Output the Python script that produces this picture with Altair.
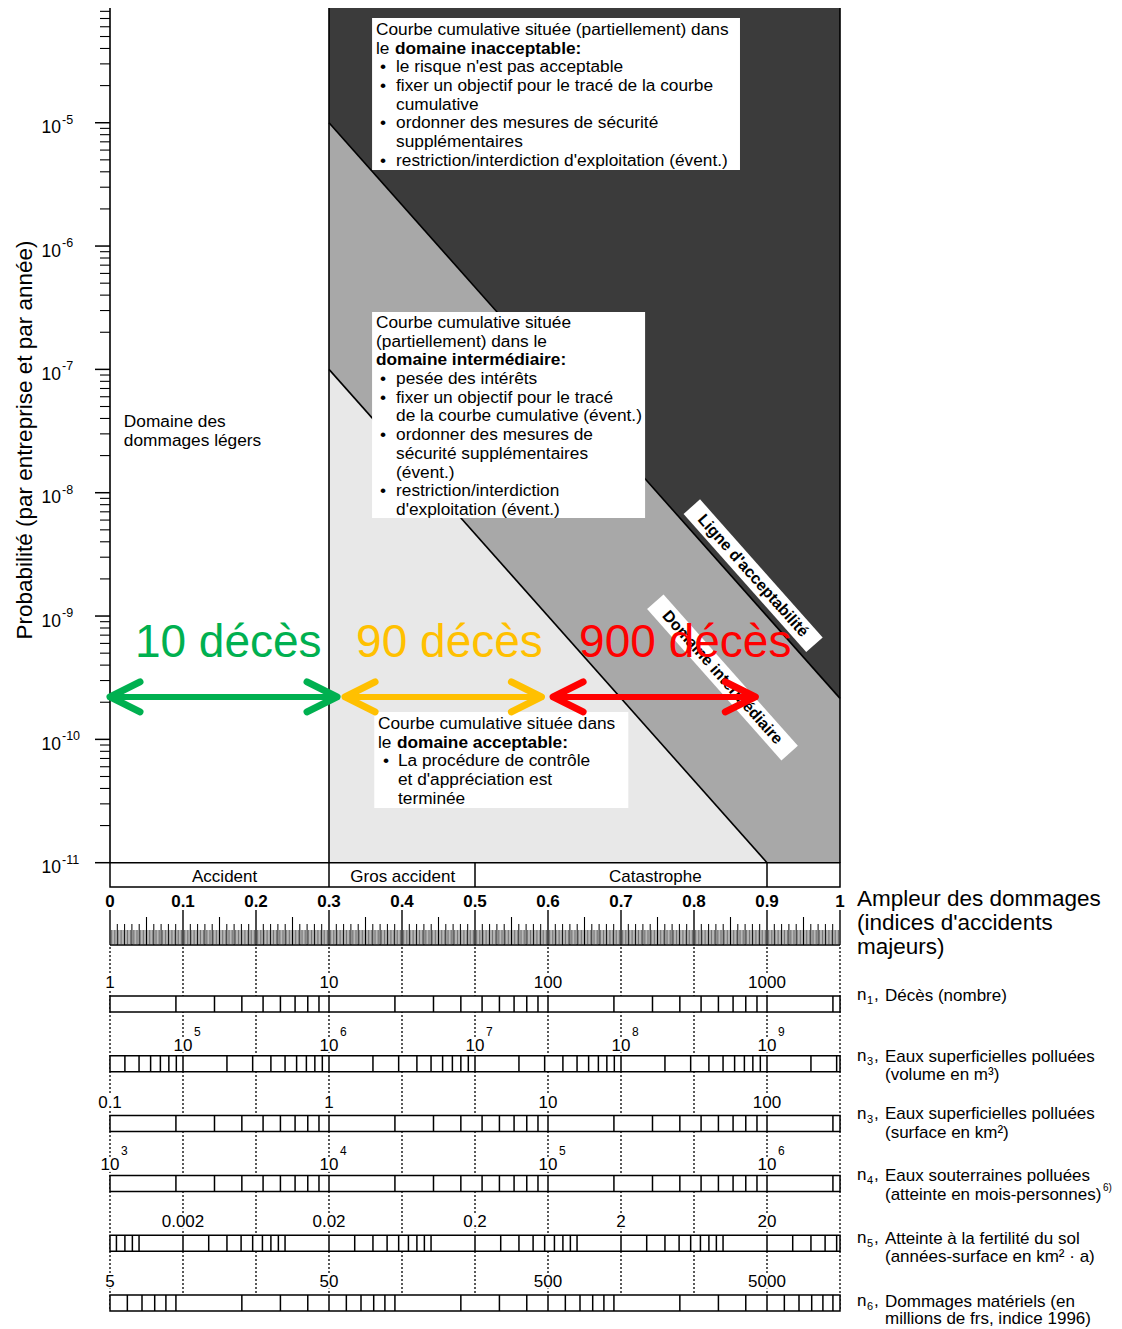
import math
import altair as alt
import pandas as pd

FONT = "Liberation Sans"
DARK = "#3b3b3b"
MID = "#a8a8a8"
LIGHT = "#e8e8e8"

# ------------------------------------------------------------------ data
Y_EXPONENTS = [-11, -10, -9, -8, -7, -6, -5]

ACCEPT_LINE_X = [0.3, 1.0]
ACCEPT_LINE_P = [1e-5, 2.15e-10]
LOWER_LINE_X = [0.3, 0.9]
LOWER_LINE_P = [1e-7, 1e-11]
RISK_ZONE_X = [0.3, 1.0]
FRAME_X = [0.0, 0.3, 1.0]

BAND_NAMES = ["Accident", "Gros accident", "Catastrophe"]
BAND_LABEL_X = [0.157, 0.401, 0.747]
BAND_EDGES = [0.3, 0.5, 0.9]

INDEX_TICKS = [0.0, 0.1, 0.2, 0.3, 0.4, 0.5, 0.6, 0.7, 0.8, 0.9, 1.0]
INDEX_LABELS = ["0", "0.1", "0.2", "0.3", "0.4", "0.5", "0.6", "0.7", "0.8", "0.9", "1"]

DEATH_LABELS = ["10 décès", "90 décès", "900 décès"]
DEATH_COLORS = ["#00b050", "#ffc000", "#ff0000"]
DEATH_LABEL_X = [0.162, 0.465, 0.788]
DEATH_LABEL_P = [4.66e-10, 4.66e-10, 4.66e-10]
DEATH_FROM = [0.0, 0.322, 0.607]
DEATH_TO = [0.311, 0.591, 0.884]
DEATH_P = [2.21e-10, 2.21e-10, 2.21e-10]

BOX_X_FROM = [0.359, 0.359, 0.362]
BOX_X_TO = [0.863, 0.733, 0.710]
BOX_E_TOP = [-4.151, -6.535, -9.778]
BOX_E_BOTTOM = [-5.383, -8.205, -10.556]

BOX1_HEAD = ["Courbe cumulative située (partiellement) dans", "le"]
BOX1_BOLD = "domaine inacceptable:"
BOX1_ITEMS = [["le risque n'est pas acceptable"],
              ["fixer un objectif pour le tracé de la courbe", "cumulative"],
              ["ordonner des mesures de sécurité", "supplémentaires"],
              ["restriction/interdiction d'exploitation (évent.)"]]
BOX2_HEAD = ["Courbe cumulative située", "(partiellement) dans le"]
BOX2_BOLD = "domaine intermédiaire:"
BOX2_ITEMS = [["pesée des intérêts"],
              ["fixer un objectif pour le tracé", "de la courbe cumulative (évent.)"],
              ["ordonner des mesures de", "sécurité supplémentaires", "(évent.)"],
              ["restriction/interdiction", "d'exploitation (évent.)"]]
BOX3_HEAD = ["Courbe cumulative située dans", "le"]
BOX3_BOLD = "domaine acceptable:"
BOX3_ITEMS = [["La procédure de contrôle", "et d'appréciation est", "terminée"]]

MINOR_TEXT = ["Domaine des", "dommages légers"]

ROT_TEXT = ["Ligne d'acceptabilité", "Domaine intermédiaire"]
ROT_X = [0.881, 0.839]
ROT_E = [-8.673, -9.498]
ROT_HALF = [0.084, 0.092]

SCALE_SYMBOL = ["1", "3", "3", "4", "5", "6"]
SCALE_TITLE = ["Décès (nombre)",
               "Eaux superficielles polluées\n(volume en m³)",
               "Eaux superficielles polluées\n(surface en km²)",
               "Eaux souterraines polluées\n(atteinte en mois-personnes)",
               "Atteinte à la fertilité du sol\n(années-surface en km² · a)",
               "Dommages matériels (en\nmillions de frs, indice 1996)"]
SCALE_FOOTNOTE = ["", "", "", "6)", "", ""]
SCALE_REF_VALUE = [1, 1e5, 0.1, 1e3, 0.002, 5]
SCALE_REF_X = [0.0, 0.1, 0.0, 0.0, 0.1, 0.0]
SCALE_DECADE = [0.3, 0.2, 0.3, 0.3, 0.2, 0.3]
SCALE_LABEL_VALUES = [[1, 10, 100, 1000],
                      [1e5, 1e6, 1e7, 1e8, 1e9],
                      [0.1, 1, 10, 100],
                      [1e3, 1e4, 1e5, 1e6],
                      [0.002, 0.02, 0.2, 2, 20],
                      [5, 50, 500, 5000]]
SCALE_LABEL_TEXT = [["1", "10", "100", "1000"],
                    ["10", "10", "10", "10", "10"],
                    ["0.1", "1", "10", "100"],
                    ["10", "10", "10", "10"],
                    ["0.002", "0.02", "0.2", "2", "20"],
                    ["5", "50", "500", "5000"]]
SCALE_LABEL_SUP = [[], ["5", "6", "7", "8", "9"], [], ["3", "4", "5", "6"], [], []]

HEADER = "Ampleur des dommages\n(indices d'accidents\nmajeurs)"

# ------------------------------------------------------------------ layout
W = 730
H = 1321
PX_PER_DECADE = 123.33
Y_BOTTOM_PX = 854.7
P_BOTTOM = 1e-11
P_TOP = 10 ** (-11 + Y_BOTTOM_PX / PX_PER_DECADE)
SLOPE = 20.0 / 3.0            # decades per unit of index
LH_DEC = 18.7 / PX_PER_DECADE
ROW_STEP = 59.8
ROW0 = 988.0
BAR_PX = 16.0
DESC_DY = [-1, 0, -2, 0, 3, 6]
DESC_LH = [18.5, 18.5, 18.5, 18.5, 18.5, 17.5]
ANGLE = math.degrees(math.atan(SLOPE * PX_PER_DECADE / W))

X_SCALE = alt.Scale(domain=[0, 1], nice=False, zero=False)
P_SCALE = alt.Scale(type="log", domain=[P_BOTTOM, P_TOP], range=[Y_BOTTOM_PX, 0], nice=False)


def xI(field="x"):
    return alt.X(f"{field}:Q", scale=X_SCALE, axis=None)


def yP(field="p"):
    return alt.Y(f"{field}:Q", scale=P_SCALE, axis=None)


def text_halfwidth(t, size=17.0):
    w = sum(0.278 * size if c == "." else 0.556 * size for c in t)
    return (w / 2 + 2) / W


layers = []

# ------------------------------------------------------------------ top part
zone_df = pd.DataFrame({"xa": [RISK_ZONE_X[0]], "xb": [RISK_ZONE_X[1]],
                        "pa": [P_BOTTOM], "pb": [P_TOP]})
layers.append(alt.Chart(zone_df).mark_rect(color=DARK).encode(
    x=xI("xa"), x2="xb", y=yP("pa"), y2="pb"))

acc_df = pd.DataFrame({"x": ACCEPT_LINE_X, "p": ACCEPT_LINE_P})
low_df = pd.DataFrame({"x": LOWER_LINE_X, "p": LOWER_LINE_P})
acc_df["pb"] = P_BOTTOM
low_df["pb"] = P_BOTTOM
layers.append(alt.Chart(acc_df).mark_area(color=MID).encode(x=xI(), y=yP(), y2="pb"))
layers.append(alt.Chart(low_df).mark_area(color=LIGHT).encode(x=xI(), y=yP(), y2="pb"))
layers.append(alt.Chart(pd.concat([acc_df.assign(s="a"), low_df.assign(s="b")])).mark_line(
    color="black", strokeWidth=1.6).encode(x=xI(), y=yP(), detail="s:N"))

frame_df = pd.DataFrame({"x": FRAME_X})
frame_df["pa"] = P_BOTTOM
frame_df["pb"] = P_TOP
layers.append(alt.Chart(frame_df).mark_rule(color="black", strokeWidth=1.6).encode(
    x=xI(), y=yP("pa"), y2="pb"))

tick_rows = []
for n in range(-11, -4):
    for k in range(1, 10):
        p = k * 10.0 ** n
        if p <= P_TOP:
            tick_rows.append({"p": p, "major": k == 1})
ticks_df = pd.DataFrame(tick_rows)
layers.append(alt.Chart(ticks_df[ticks_df.major]).mark_rule(color="black", strokeWidth=1.5).encode(
    x=alt.value(-15), x2=alt.value(0), y=yP()))
layers.append(alt.Chart(ticks_df[~ticks_df.major]).mark_rule(color="black", strokeWidth=1.1).encode(
    x=alt.value(-10), x2=alt.value(0), y=yP()))

ylab_df = pd.DataFrame({"p": [10.0 ** e for e in Y_EXPONENTS], "base": "10",
                        "sup": [str(e) for e in Y_EXPONENTS]})
layers.append(alt.Chart(ylab_df).mark_text(align="right", baseline="alphabetic", dy=10.5,
                                           fontSize=17.5).encode(x=alt.value(-49), y=yP(), text="base:N"))
layers.append(alt.Chart(ylab_df).mark_text(align="left", baseline="alphabetic", dy=1,
                                           fontSize=12.5).encode(x=alt.value(-48), y=yP(), text="sup:N"))
layers.append(alt.Chart(pd.DataFrame({"t": ["Probabilité (par entreprise et par année)"]})).mark_text(
    angle=270, fontSize=22.5, align="center", baseline="middle").encode(
    x=alt.value(-85), y=alt.value(432), text="t:N"))

boxes_df = pd.DataFrame({"xa": BOX_X_FROM, "xb": BOX_X_TO,
                         "pa": [10 ** e for e in BOX_E_TOP], "pb": [10 ** e for e in BOX_E_BOTTOM]})
layers.append(alt.Chart(boxes_df).mark_rect(color="white").encode(
    x=xI("xa"), x2="xb", y=yP("pa"), y2="pb"))


def box_rows(head_x, bullet_x, item_x, e_first, head, bold_text, bold_line, bold_dx, items):
    out = []
    for i, t in enumerate(head):
        out.append((head_x, e_first - i * LH_DEC, t, "normal"))
    out.append((head_x + bold_dx, e_first - bold_line * LH_DEC, bold_text, "bold"))
    line = max(len(head), bold_line + 1)
    for item in items:
        for j, t in enumerate(item):
            e = e_first - line * LH_DEC
            if j == 0:
                out.append((bullet_x, e, "•", "normal"))
            out.append((item_x, e, t, "normal"))
            line += 1
    return out


txt = []
txt += box_rows(0.3644, 0.3699, 0.3918, -4.2481, BOX1_HEAD, BOX1_BOLD, 1, 0.026, BOX1_ITEMS)
txt += box_rows(0.3644, 0.3699, 0.3918, -6.6238, BOX2_HEAD, BOX2_BOLD, 2, 0.0, BOX2_ITEMS)
txt += box_rows(0.3671, 0.3740, 0.3945, -9.8753, BOX3_HEAD, BOX3_BOLD, 1, 0.026, BOX3_ITEMS)
for i, t in enumerate(MINOR_TEXT):
    txt.append((0.019, -7.4266 - i * LH_DEC, t, "normal"))
txt_df = pd.DataFrame(txt, columns=["x", "e", "text", "w"])
txt_df["p"] = 10 ** txt_df["e"]
layers.append(alt.Chart(txt_df[txt_df.w == "normal"]).mark_text(
    align="left", baseline="middle", fontSize=17.3).encode(x=xI(), y=yP(), text="text:N"))
layers.append(alt.Chart(txt_df[txt_df.w == "bold"]).mark_text(
    align="left", baseline="middle", fontSize=17.3, fontWeight="bold").encode(x=xI(), y=yP(), text="text:N"))

rot_df = pd.DataFrame({"text": ROT_TEXT, "x": ROT_X, "e": ROT_E, "h": ROT_HALF})
rot_df["p"] = 10 ** rot_df.e
rot_df["xa"] = rot_df.x - rot_df.h
rot_df["xb"] = rot_df.x + rot_df.h
rot_df["pa"] = 10 ** (rot_df.e + rot_df.h * SLOPE)
rot_df["pb"] = 10 ** (rot_df.e - rot_df.h * SLOPE)
layers.append(alt.Chart(rot_df).mark_rule(color="white", strokeWidth=22, strokeCap="butt").encode(
    x=xI("xa"), x2="xb", y=yP("pa"), y2="pb"))
layers.append(alt.Chart(rot_df).mark_text(angle=ANGLE, fontSize=16, fontWeight="bold",
                                          align="center", baseline="middle").encode(
    x=xI(), y=yP(), text="text:N"))

death_df = pd.DataFrame({"label": DEATH_LABELS, "color": DEATH_COLORS, "lx": DEATH_LABEL_X,
                         "lp": DEATH_LABEL_P, "xa": DEATH_FROM, "xb": DEATH_TO, "p": DEATH_P})
no_scale = alt.Color("color:N", scale=None)
layers.append(alt.Chart(death_df).mark_text(fontSize=46, align="center", baseline="alphabetic").encode(
    x=xI("lx"), y=yP("lp"), text="label:N", color=no_scale))
layers.append(alt.Chart(death_df).mark_rule(strokeWidth=6, strokeCap="round").encode(
    x=xI("xa"), x2="xb", y=yP(), color=no_scale))
layers.append(alt.Chart(death_df).mark_point(shape="M2,-1L0,0L2,1", size=900, filled=False, opacity=1,
                                             strokeWidth=7, strokeCap="round", strokeJoin="round").encode(
    x=xI("xa"), y=yP(), color=no_scale))
layers.append(alt.Chart(death_df).mark_point(shape="M-2,-1L0,0L-2,1", size=900, filled=False, opacity=1,
                                             strokeWidth=7, strokeCap="round", strokeJoin="round").encode(
    x=xI("xb"), y=yP(), color=no_scale))

# ------------------------------------------------------------------ bottom part
band_df = pd.DataFrame({"xa": [0.0], "xb": [1.0]})
layers.append(alt.Chart(band_df).mark_rect(fill="white", stroke="black", strokeWidth=1.5).encode(
    x=xI("xa"), x2="xb", y=alt.value(Y_BOTTOM_PX), y2=alt.value(879)))
layers.append(alt.Chart(pd.DataFrame({"x": BAND_EDGES})).mark_rule(color="black", strokeWidth=1.5).encode(
    x=xI(), y=alt.value(Y_BOTTOM_PX), y2=alt.value(879)))
layers.append(alt.Chart(pd.DataFrame({"x": BAND_LABEL_X, "t": BAND_NAMES})).mark_text(
    fontSize=17, baseline="middle").encode(x=xI(), y=alt.value(869), text="t:N"))

layers.append(alt.Chart(pd.DataFrame({"x": INDEX_TICKS, "t": INDEX_LABELS})).mark_text(
    fontSize=17, fontWeight="bold", baseline="middle").encode(x=xI(), y=alt.value(894), text="t:N"))

ruler = pd.DataFrame({"i": list(range(501))})
ruler["x"] = ruler.i / 500.0
layers.append(alt.Chart(band_df).mark_rule(color="black", strokeWidth=1.6).encode(
    x=xI("xa"), x2="xb", y=alt.value(937)))
layers.append(alt.Chart(ruler[ruler.i % 5 != 0]).mark_rule(color="#333333", strokeWidth=0.7).encode(
    x=xI(), y=alt.value(922), y2=alt.value(937)))
layers.append(alt.Chart(ruler[(ruler.i % 5 == 0) & (ruler.i % 25 != 0)]).mark_rule(
    color="black", strokeWidth=1).encode(x=xI(), y=alt.value(916), y2=alt.value(937)))
layers.append(alt.Chart(ruler[(ruler.i % 25 == 0) & (ruler.i % 50 != 0)]).mark_rule(
    color="black", strokeWidth=1.1).encode(x=xI(), y=alt.value(909), y2=alt.value(937)))
layers.append(alt.Chart(ruler[ruler.i % 50 == 0]).mark_rule(color="black", strokeWidth=1.4).encode(
    x=xI(), y=alt.value(902), y2=alt.value(937)))

layers.append(alt.Chart(pd.DataFrame({"x": INDEX_TICKS})).mark_rule(
    color="black", strokeWidth=1.3, strokeDash=[2, 2]).encode(
    x=xI(), y=alt.value(939), y2=alt.value(1303)))

layers.append(alt.Chart(pd.DataFrame({"t": [HEADER]})).mark_text(
    fontSize=22.5, align="left", baseline="top", lineBreak="\n", lineHeight=24).encode(
    x=alt.value(747), y=alt.value(879.5), text="t:N"))

calc = "datum.rx + datum.dec * log(datum.v / datum.rv) / LN10"
for i in range(6):
    top_px = ROW0 + i * ROW_STEP
    bot_px = top_px + BAR_PX
    rv = SCALE_REF_VALUE[i]
    has_sup = bool(SCALE_LABEL_SUP[i])
    lab_base = top_px - (5 if has_sup else 8)
    # value labels (with white ground hiding the dotted guide)
    lab_df = pd.DataFrame({"v": SCALE_LABEL_VALUES[i], "t": SCALE_LABEL_TEXT[i]})
    lab_df["rv"] = rv
    lab_df["rx"] = SCALE_REF_X[i]
    lab_df["dec"] = SCALE_DECADE[i]
    lab_df["hw"] = [text_halfwidth(t) for t in SCALE_LABEL_TEXT[i]]
    layers.append(alt.Chart(lab_df).transform_calculate(x=calc).transform_calculate(
        xa="datum.x - datum.hw", xb="datum.x + datum.hw").mark_rule(
        color="white", strokeWidth=15).encode(x=xI("xa"), x2="xb", y=alt.value(lab_base - 6)))
    layers.append(alt.Chart(lab_df).transform_calculate(x=calc).mark_text(
        fontSize=17, baseline="alphabetic", align="center").encode(
        x=xI(), y=alt.value(lab_base), text="t:N"))
    if has_sup:
        lab_df["s"] = SCALE_LABEL_SUP[i]
        layers.append(alt.Chart(lab_df).transform_calculate(x=calc).mark_text(
            fontSize=12, baseline="alphabetic", align="left", dx=11).encode(
            x=xI(), y=alt.value(top_px - 20), text="s:N"))
    # bar frame
    layers.append(alt.Chart(band_df).mark_rect(fill="white", stroke="black", strokeWidth=1.5).encode(
        x=xI("xa"), x2="xb", y=alt.value(top_px), y2=alt.value(bot_px)))
    # logarithmic graduations
    n0 = math.floor(math.log10(rv)) - 2
    grad = [{"v": k * 10.0 ** n} for n in range(n0, n0 + 9) for k in range(1, 10)]
    grad_df = pd.DataFrame(grad)
    grad_df["rv"] = rv
    grad_df["rx"] = SCALE_REF_X[i]
    grad_df["dec"] = SCALE_DECADE[i]
    layers.append(alt.Chart(grad_df).transform_calculate(x=calc).transform_filter(
        "datum.x > 0.003 && datum.x < 0.997").mark_rule(color="black", strokeWidth=1.5).encode(
        x=xI(), y=alt.value(top_px), y2=alt.value(bot_px)))
    # description on the right
    cy = top_px + DESC_DY[i]
    d_df = pd.DataFrame({"t": [SCALE_TITLE[i]], "s": [SCALE_SYMBOL[i]], "f": [SCALE_FOOTNOTE[i]]})
    layers.append(alt.Chart(d_df).mark_text(fontSize=17, align="left", baseline="top",
                                            lineBreak="\n", lineHeight=DESC_LH[i]).encode(
        x=alt.value(775), y=alt.value(cy - 7.3), text="t:N"))
    layers.append(alt.Chart(d_df).mark_text(fontSize=17, align="left", baseline="middle", text="n").encode(
        x=alt.value(747), y=alt.value(cy)))
    layers.append(alt.Chart(d_df).mark_text(fontSize=11, align="left", baseline="middle").encode(
        x=alt.value(757), y=alt.value(cy + 6), text="s:N"))
    layers.append(alt.Chart(d_df).mark_text(fontSize=17, align="left", baseline="middle", text=",").encode(
        x=alt.value(764), y=alt.value(cy)))
    if SCALE_FOOTNOTE[i]:
        layers.append(alt.Chart(d_df).mark_text(fontSize=10, align="left", baseline="middle").encode(
            x=alt.value(993), y=alt.value(cy + DESC_LH[i] - 6), text="f:N"))

chart = alt.layer(*layers).properties(
    width=W, height=H,
    autosize=alt.AutoSizeParams(type="none"),
    padding={"left": 102, "top": 0, "right": 274, "bottom": 0},
).configure(font=FONT).configure_view(stroke=None)

chart.save("out.html", embed_options={"renderer": "svg", "actions": False})
